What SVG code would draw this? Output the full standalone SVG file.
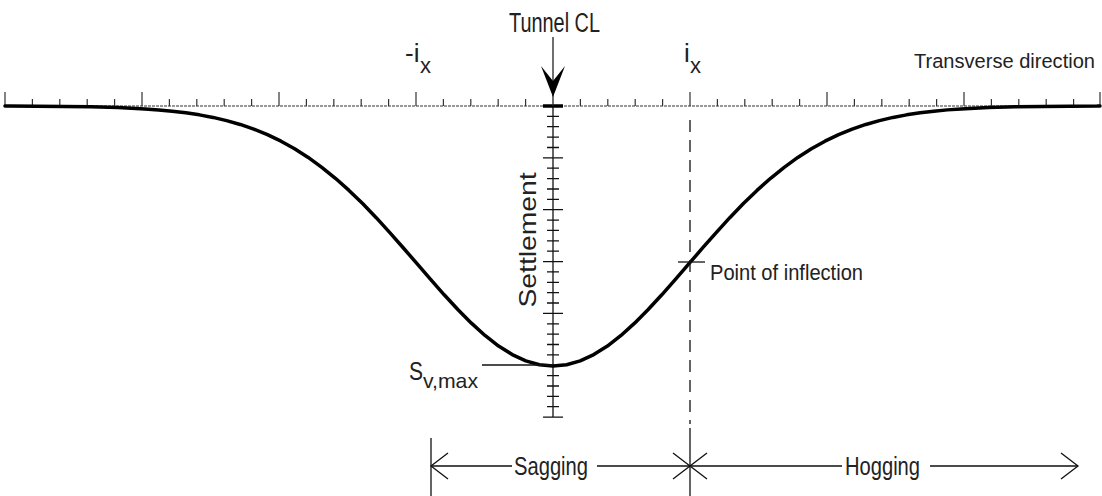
<svg xmlns="http://www.w3.org/2000/svg" width="1102" height="496" viewBox="0 0 1102 496">
<style>
.t{font-family:"Liberation Sans",Arial,sans-serif;fill:#222}
.ln{stroke:#111;fill:none;stroke-width:1.3}
.ax{stroke:#333;fill:none;stroke-width:1.2}
.curve{stroke:#000;fill:none;stroke-width:3.5;stroke-linejoin:round;stroke-linecap:round}
</style>
<rect width="1102" height="496" fill="#fff"/>
<g id="transverse-axis">
<line class="ax" x1="4" y1="106" x2="1101" y2="106" stroke-dasharray="3 1"/>
<path class="ax" d="M5 106v-14M32.4 106v-7M59.8 106v-7M87.2 106v-7M114.6 106v-7M142 106v-14M169.4 106v-7M196.8 106v-7M224.2 106v-7M251.6 106v-7M279 106v-14M306.4 106v-7M333.8 106v-7M361.2 106v-7M388.6 106v-7M416 106v-14M443.4 106v-7M470.8 106v-7M498.2 106v-7M525.6 106v-7M580.4 106v-7M607.8 106v-7M635.2 106v-7M662.6 106v-7M690 106v-14M717.4 106v-7M744.8 106v-7M772.2 106v-7M799.6 106v-7M827 106v-14M854.4 106v-7M881.8 106v-7M909.2 106v-7M936.6 106v-7M964 106v-14M991.4 106v-7M1018.8 106v-7M1046.2 106v-7M1073.6 106v-7M1100 106v-14"/>
<text class="t" x="914" y="68" font-size="20.5" textLength="181" lengthAdjust="spacingAndGlyphs">Transverse direction</text>
</g>
<g id="minus-ix">
<text class="t" x="405" y="62" font-size="26">-i</text>
<text class="t" x="420" y="73" font-size="22">x</text>
</g>
<g id="ix">
<text class="t" x="684" y="62" font-size="26">i</text>
<text class="t" x="690" y="73" font-size="22">x</text>
</g>
<g id="settlement-axis">
<line class="ln" x1="553" y1="106" x2="553" y2="417" stroke-width="1.6"/>
<line x1="543" y1="106" x2="563" y2="106" stroke="#000" stroke-width="3.5"/>
<path class="ln" d="M547 116.4h12M547 126.7h12M547 137.1h12M547 147.5h12M543 157.9h20M547 168.2h12M547 178.6h12M547 189h12M547 199.3h12M543 209.7h20M547 220.1h12M547 230.4h12M547 240.8h12M547 251.2h12M543 261.6h20M547 271.9h12M547 282.3h12M547 292.7h12M547 303h12M543 313.4h20M547 323.8h12M547 334.1h12M547 344.5h12M547 354.9h12M543 365.3h20M547 375.6h12M547 386h12M547 396.4h12M547 406.7h12M543 417.1h20" stroke-width="1.6"/>
<text class="t" transform="translate(536 240) rotate(-90)" text-anchor="middle" font-size="24" textLength="135" lengthAdjust="spacingAndGlyphs">Settlement</text>
</g>
<g id="settlement-curve">
<polyline class="curve" points="5,106 9,106.1 63.4,106.4 90.6,106.8 117.8,107.55 145,108.89 158.6,109.88 172.2,111.16 185.8,112.79 199.4,114.85 213,117.42 226.6,120.59 240.2,124.46 253.8,129.12 267.4,134.67 281,141.19 294.6,148.76 308.2,157.45 321.8,167.3 335.4,178.29 349,190.41 362.6,203.58 376.2,217.69 389.8,232.56 403.4,247.98 417,263.7 430.6,279.41 444.2,294.8 457.8,309.5 471.4,323.17 485,335.45 498.6,346.01 512.2,354.56 525.8,360.85 539.4,364.7 553,366 566.6,364.7 580.2,360.85 593.8,354.56 607.4,346.01 621,335.45 634.6,323.17 648.2,309.5 661.8,294.8 675.4,279.41 689,263.7 702.6,247.98 716.2,232.56 729.8,217.69 743.4,203.58 757,190.41 770.6,178.29 784.2,167.3 797.8,157.45 811.4,148.76 825,141.19 838.6,134.67 852.2,129.12 865.8,124.46 879.4,120.59 893,117.42 906.6,114.85 920.2,112.79 933.8,111.16 947.4,109.88 961,108.89 988.2,107.55 1015.4,106.8 1042.6,106.4 1069.8,106.2 1097,106.1 1100,106"/>
</g>
<g id="tunnel-cl">
<text class="t" x="509" y="32" font-size="27" textLength="91" lengthAdjust="spacingAndGlyphs">Tunnel CL</text>
</g>
<g id="sv-max">
<line class="ln" x1="482" y1="365" x2="553" y2="365" stroke-width="1.5"/>
<text class="t" x="409" y="380" font-size="25" textLength="14" lengthAdjust="spacingAndGlyphs">S</text>
<text class="t" x="423" y="388" font-size="21" textLength="55" lengthAdjust="spacingAndGlyphs">v,max</text>
</g>
<g id="inflection">
<line class="ln" x1="678" y1="262" x2="705" y2="262" stroke-width="1.5"/>
<text class="t" x="710" y="280" font-size="22" textLength="153" lengthAdjust="spacingAndGlyphs">Point of inflection</text>
</g>
<g id="zones">
<text class="t" x="514" y="475" font-size="26" textLength="74" lengthAdjust="spacingAndGlyphs">Sagging</text>
<text class="t" x="845" y="475" font-size="26" textLength="75" lengthAdjust="spacingAndGlyphs">Hogging</text>
</g>
<g id="connectors">
<line x1="553" y1="37" x2="553" y2="106" stroke="#222" stroke-width="1.3"/>
<path d="M553 97 L541 66 L553 81 L565 66 Z" fill="#000"/>
<line class="ln" x1="690" y1="120" x2="690" y2="424" stroke-dasharray="12 8" stroke-width="1.6"/>
<line class="ln" x1="690" y1="428" x2="690" y2="496"/>
<line class="ln" x1="431" y1="438" x2="431" y2="496"/>
<path class="ln" d="M431 466H512M597 466H842M930 466H1078"/>
<path class="ln" d="M448 453L431 466L448 479M673 453L690 466L673 479M707 453L690 466L707 479M1061 453L1078 466L1061 479" stroke-width="1"/>
</g>
</svg>
